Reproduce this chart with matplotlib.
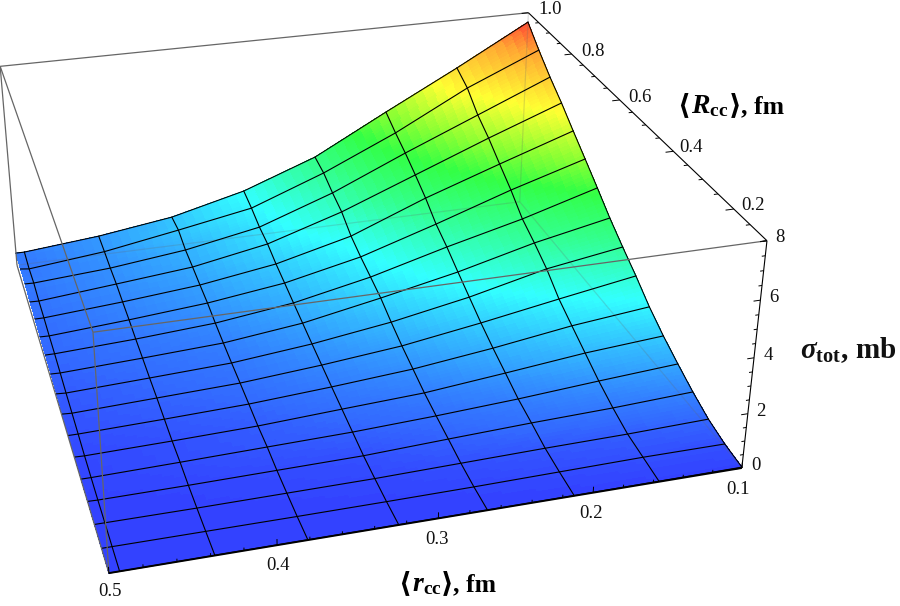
import numpy as np
import matplotlib
matplotlib.use("Agg")
import matplotlib.pyplot as plt
from matplotlib.colors import LinearSegmentedColormap

plt.rcParams["mathtext.fontset"] = "custom"
plt.rcParams["mathtext.rm"] = "Liberation Serif"
plt.rcParams["mathtext.it"] = "Liberation Serif:italic"
plt.rcParams["mathtext.bf"] = "Liberation Serif:bold"
plt.rcParams["mathtext.bfit"] = "Liberation Serif:italic:bold"

# mesh positions, fm
r_cc = [0.1, 0.15625, 0.2125, 0.26875, 0.325, 0.38125, 0.4375, 0.49375, 0.5]
R_cc = [0.1, 0.15625, 0.2125, 0.26875, 0.325, 0.38125, 0.4375, 0.49375, 0.55,
        0.60625, 0.6625, 0.71875, 0.775, 0.83125, 0.8875, 0.94375, 1.0]
# sigma_tot in mb, one row per R_cc, one column per r_cc
sigma = [
    [0.03, 0.02, 0.01, 0.01, 0.01, 0.01, 0.01, 0.00, 0.00],
    [0.12, 0.12, 0.08, 0.04, 0.02, 0.01, 0.01, 0.01, 0.01],
    [0.30, 0.22, 0.18, 0.12, 0.06, 0.04, 0.02, 0.02, 0.02],
    [0.60, 0.46, 0.37, 0.25, 0.12, 0.08, 0.04, 0.02, 0.03],
    [0.96, 0.76, 0.54, 0.37, 0.24, 0.17, 0.10, 0.04, 0.04],
    [1.35, 1.13, 0.81, 0.51, 0.36, 0.20, 0.12, 0.06, 0.07],
    [1.81, 1.50, 1.07, 0.71, 0.48, 0.29, 0.19, 0.11, 0.11],
    [2.37, 1.88, 1.37, 0.91, 0.61, 0.37, 0.26, 0.15, 0.17],
    [2.88, 2.42, 1.72, 1.16, 0.74, 0.44, 0.31, 0.19, 0.21],
    [3.42, 2.82, 2.07, 1.45, 0.88, 0.53, 0.38, 0.25, 0.26],
    [4.03, 3.17, 2.44, 1.64, 1.02, 0.64, 0.44, 0.30, 0.30],
    [4.62, 3.74, 2.75, 1.82, 1.17, 0.78, 0.53, 0.32, 0.33],
    [5.20, 4.22, 3.21, 2.05, 1.31, 0.86, 0.59, 0.37, 0.37],
    [5.80, 4.72, 3.58, 2.44, 1.51, 0.96, 0.67, 0.39, 0.40],
    [6.34, 5.13, 3.92, 2.64, 1.60, 1.04, 0.69, 0.48, 0.49],
    [6.95, 5.72, 4.21, 2.90, 1.80, 1.26, 0.75, 0.43, 0.47],
    [7.62, 6.05, 4.55, 3.01, 1.94, 1.21, 0.79, 0.51, 0.51],
]
r_major = [0.1, 0.2, 0.3, 0.4, 0.5]
R_major = [0.2, 0.4, 0.6, 0.8, 1.0]
z_major = [0, 2, 4, 6, 8]


def refine(a, n, axis):
    # finer cells only for the colour gradient, straight between mesh nodes
    a = np.asarray(a, float)
    idx = np.linspace(0, a.shape[axis] - 1, (a.shape[axis] - 1) * n + 1)
    return np.apply_along_axis(lambda v: np.interp(idx, np.arange(len(v)), v), axis, a)


colours = [(0.0, (0.20, 0.26, 1.0)), (0.3, (0.20, 0.42, 1.0)), (1.0, (0.20, 0.68, 1.0)), (1.9, (0.20, 1.0, 1.0)),
           (3.0, (0.20, 1.0, 0.55)), (3.9, (0.20, 1.0, 0.27)), (4.6, (0.55, 1.0, 0.20)),
           (5.6, (1.0, 1.0, 0.20)), (6.9, (1.0, 0.65, 0.20)), (7.7, (1.0, 0.27, 0.20)), (8.0, (1.0, 0.2, 0.2))]
cmap = LinearSegmentedColormap.from_list("height", [(z / 8, c) for z, c in colours])

fig = plt.figure(figsize=(9, 6.06), dpi=100)
ax = fig.add_axes([-89.67 / 900, (606 - 691.56) / 606, 851.28 / 900, 851.28 / 606],
                  projection="3d", computed_zorder=False)
ax.set_xlim(0.5, 0.1)
ax.set_ylim(0.1, 1.0)
ax.set_zlim(0, 8)
ax.view_init(elev=27.3299, azim=-106.0349, roll=-0.0982)
ax.set_proj_type("persp", focal_length=np.exp(-0.8416))
ax.set_box_aspect((np.exp(0.9187), np.exp(0.9132), 1))
ax.set_axis_off()

R0, R1, r0, r1 = 0.1, 1.0, 0.1, 0.5
grey = "#666666"


def edge(a, b, color=grey, lw=0.9, zorder=1, alpha=None):
    ax.plot([a[0], b[0]], [a[1], b[1]], [a[2], b[2]], color=color, lw=lw, zorder=zorder,
            alpha=alpha, solid_capstyle="butt", clip_on=False)


# surface
rr, RR = np.meshgrid(r_cc, R_cc)
n = 8
xs = refine(refine(rr, n, 0), n, 1)
ys = refine(refine(RR, n, 0), n, 1)
zs = refine(refine(sigma, n, 0), n, 1)
ax.plot_surface(xs, ys, zs, rstride=1, cstride=1, facecolors=cmap(zs / 8), shade=False,
                linewidth=0, antialiased=False, zorder=2)
# box edges behind the surface, only faintly visible through it
edge((r0, R1, 0), (r1, R1, 0), alpha=0.22, zorder=2.5)
edge((r0, R1, 0), (r0, R1, 8), alpha=0.22, zorder=2.5)
edge((r0, R1, 0), (r0, R0, 0), alpha=0.22, zorder=2.5)
# mesh
z_arr = np.array(sigma)
for j, R in enumerate(R_cc):
    ax.plot(r_cc, [R] * len(r_cc), z_arr[j], color="black", lw=0.8, zorder=3)
for i, r in enumerate(r_cc[:-1]):
    ax.plot([r] * len(R_cc), R_cc, z_arr[:, i], color="black", lw=0.8, zorder=3)
# box edges in front
edge((r1, R0, 0), (r1, R0, 8), zorder=4)
edge((r0, R0, 8), (r1, R0, 8), zorder=4)
edge((r1, R0, 8), (r1, R1, 8), zorder=4)
edge((r1, R1, 8), (r1, R1, 0), zorder=4)
edge((r1, R1, 0), (r1, R0, 0), zorder=4)
edge((r1, R1, 8), (r0, R1, 8), zorder=4)
# the three labelled axes with their ticks
edge((r0, R0, 0), (r1, R0, 0), color="black", lw=1.4, zorder=5)
edge((r0, R0, 8), (r0, R1, 8), color="black", lw=0.8, zorder=5)
edge((r0, R0, 0), (r0, R0, 8), color="black", lw=0.8, zorder=5)
for v in np.arange(0.1, 0.5001, 0.02):
    major = min(abs(v - t) for t in r_major) < 1e-6
    edge((v, R0, 0), (v, R0, 0.22 if major else 0.11), color="black", lw=0.7, zorder=5)
for v in np.arange(0.1, 1.0001, 0.05):
    major = min(abs(v - t) for t in R_major) < 1e-6
    edge((r0, v, 8), (r0 + (0.0055 if major else 0.0028), v, 8), color="black", lw=0.7, zorder=5)
for v in np.arange(0, 8.01, 0.5):
    major = min(abs(v - t) for t in z_major) < 1e-6
    edge((r0, R0, v), (r0 + (0.0045 if major else 0.0023), R0, v), color="black", lw=0.7, zorder=5)


def label(x, y, s, size=13.5):
    fig.text(x / 900, 1 - y / 606, s, ha="center", va="center", fontsize=size,
             family="Liberation Serif", color="#111111")


def title_part(x, y, s, ha="left", family="Liberation Serif", size=20):
    fig.text(x / 900, 1 - y / 606, s, ha=ha, va="baseline", fontsize=size, family=family,
             fontweight="bold", color="black")


def bracket_title(y, symbol, x_open, x_symbol, x_close, x_unit):
    title_part(x_open, y, "\u27e8", ha="center", family="DejaVu Sans", size=20)
    title_part(x_symbol, y, symbol)
    title_part(x_close, y, "\u27e9", ha="center", family="DejaVu Sans", size=20)
    title_part(x_unit, y, ", fm", size=18.5)


for t, pos in zip(["0.1", "0.2", "0.3", "0.4", "0.5"],
                  [(738, 489), (591, 513), (437, 539), (278, 566), (110, 592)]):
    label(pos[0], pos[1], t)
for t, pos in zip(["0.2", "0.4", "0.6", "0.8", "1.0"],
                  [(753, 206), (691, 147), (640, 97), (593, 52), (550, 10)]):
    label(pos[0], pos[1], t)
for t, pos in zip(["0", "2", "4", "6", "8"],
                  [(756, 465), (761, 411), (768, 355), (774, 297), (780, 238)]):
    label(pos[0], pos[1], t)
bracket_title(591, r"$\mathbfit{r}_{\mathbf{cc}}$", 404, 412, 447, 453)
bracket_title(113, r"$\mathbfit{R}_{\mathbf{cc}}$", 683, 691, 735, 741)
label(848.5, 350, r"$\mathbfit{\sigma}_{\mathbf{tot}}\mathbf{,\,mb}$", 21)

fig.savefig("out.png", dpi=100)
